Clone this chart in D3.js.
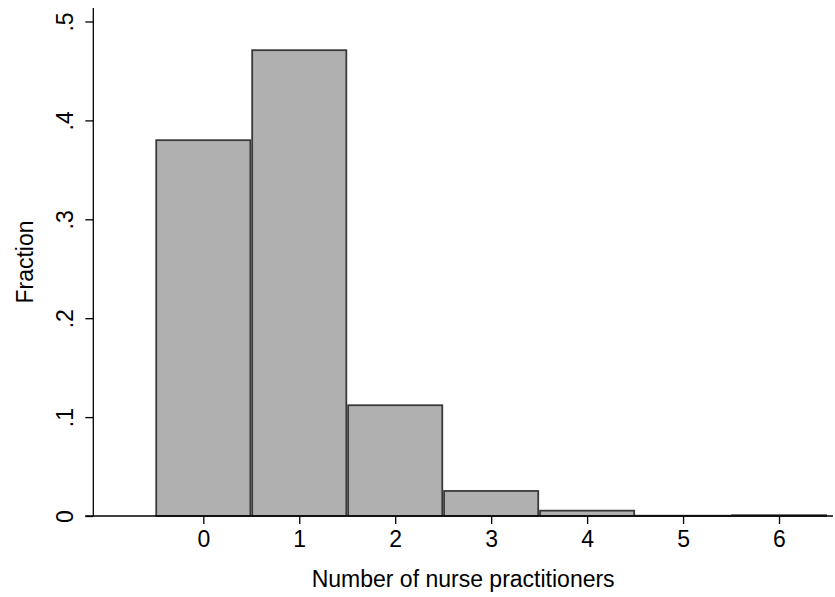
<!DOCTYPE html>
<html>
<head>
<meta charset="utf-8">
<script src="https://cdn.jsdelivr.net/npm/d3@7"></script>
<style>
  body { margin: 0; background: #fff; }
  svg { display: block; }
  text { font-family: "Liberation Sans", Arial, Helvetica, sans-serif; fill: #000; }
</style>
</head>
<body>
<svg width="835" height="597"></svg>
<script>
// histogram data: number of nurse practitioners vs fraction
var categories = [0, 1, 2, 3, 4, 5, 6];
var fractions = [0.380, 0.471, 0.112, 0.0253, 0.0054, 0.0003, 0.0008];
var xTicks = [0, 1, 2, 3, 4, 5, 6];
var yTicks = [0, 0.1, 0.2, 0.3, 0.4, 0.5];
var yTickLabels = ["0", ".1", ".2", ".3", ".4", ".5"];

var svg = d3.select("svg");
var fontSize = "23px";

// scales
var x = d3.scaleLinear().domain([0, 6]).range([203.3, 779]);
var y = d3.scaleLinear().domain([0, 0.5]).range([516, 21.5]);

var plotLeft = 93.3, plotRight = 833, plotTop = 8, plotBottom = y(0);

//draw bars
svg.append("g")
    .selectAll("rect")
    .data(categories)
    .enter().append("rect")
    .attr("x", function (d) { return x(d - 0.5) + 0.9; })
    .attr("y", function (d, i) { return y(fractions[i]); })
    .attr("width", function (d) { return x(d + 0.5) - x(d - 0.5) - 1.8; })
    .attr("height", function (d, i) { return plotBottom - y(fractions[i]); })
    .style("fill", "#b0b0b0")
    .style("stroke", "#3a3a3a")
    .style("stroke-width", 1.8);

//y axis
var yAxis = svg.append("g")
    .attr("transform", "translate(" + plotLeft + ",0)")
    .call(d3.axisLeft(y).tickValues(yTicks).tickSize(8)
        .tickFormat(function (d, i) { return yTickLabels[i]; }));
yAxis.select(".domain").remove();
yAxis.selectAll(".tick line").attr("stroke", "#000").attr("stroke-width", 1.3);
yAxis.selectAll(".tick text")
    .attr("x", 0).attr("y", 0).attr("dy", 0)
    .attr("transform", "translate(-20,0) rotate(-90)")
    .attr("text-anchor", "middle")
    .style("font-size", fontSize)
    .style("font-family", "Liberation Sans, Arial, sans-serif")
    .style("fill", "#000");
svg.append("line")
    .attr("x1", plotLeft).attr("x2", plotLeft)
    .attr("y1", plotTop).attr("y2", plotBottom)
    .attr("stroke", "#000").attr("stroke-width", 1.3);

//x axis
var xAxis = svg.append("g")
    .attr("transform", "translate(0," + plotBottom + ")")
    .call(d3.axisBottom(x).tickValues(xTicks).tickSize(8).tickFormat(d3.format("d")));
xAxis.select(".domain").remove();
xAxis.selectAll(".tick line").attr("stroke", "#000").attr("stroke-width", 1.3);
xAxis.selectAll(".tick text")
    .attr("y", 31).attr("dy", 0)
    .style("font-size", fontSize)
    .style("font-family", "Liberation Sans, Arial, sans-serif")
    .style("fill", "#000");
svg.append("line")
    .attr("x1", plotLeft - 8).attr("x2", plotRight)
    .attr("y1", plotBottom).attr("y2", plotBottom)
    .attr("stroke", "#000").attr("stroke-width", 1.3);

//axis titles
svg.append("text")
    .attr("x", (plotLeft + plotRight) / 2)
    .attr("y", 587)
    .attr("text-anchor", "middle")
    .style("font-size", fontSize)
    .text("Number of nurse practitioners");

svg.append("text")
    .attr("transform", "translate(33," + ((plotTop + plotBottom) / 2) + ") rotate(-90)")
    .attr("text-anchor", "middle")
    .style("font-size", fontSize)
    .text("Fraction");
</script>
</body>
</html>
